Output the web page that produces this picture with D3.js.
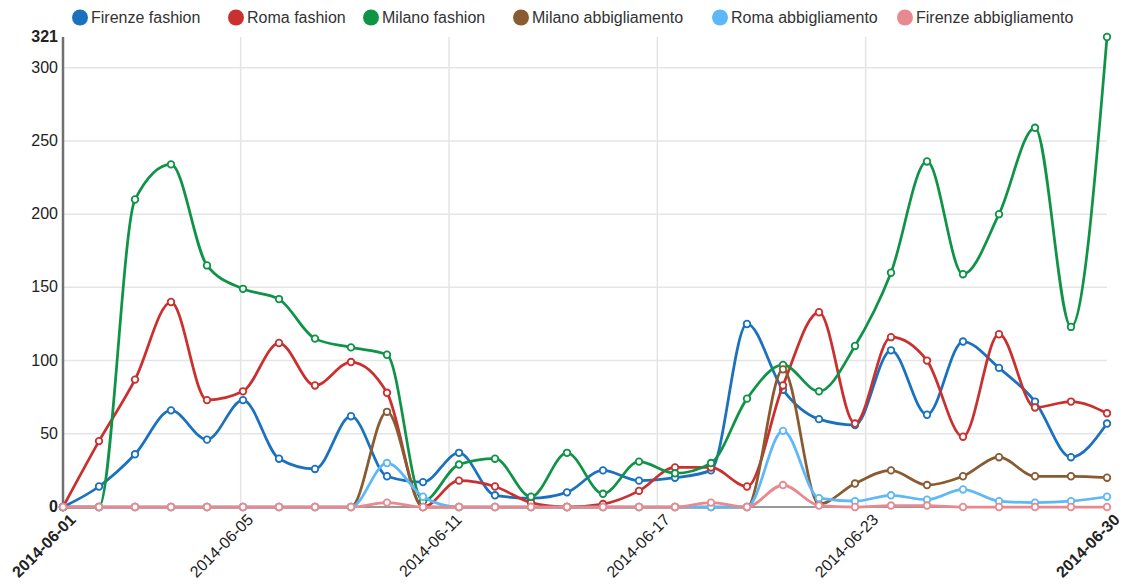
<!DOCTYPE html>
<html>
<head>
<meta charset="utf-8">
<script src="https://cdn.jsdelivr.net/npm/d3@7"></script>
<style>
  body { margin: 0; background: #fff; }
  svg { display: block; font-family: "Liberation Sans", Arial, sans-serif; }
</style>
</head>
<body>
<svg id="chart" width="1126" height="586"></svg>
<script>
// dates of the points (one per day)
const dates = ["2014-06-01","2014-06-02","2014-06-03","2014-06-04","2014-06-05","2014-06-06",
  "2014-06-07","2014-06-08","2014-06-09","2014-06-10","2014-06-11","2014-06-12","2014-06-13",
  "2014-06-14","2014-06-15","2014-06-16","2014-06-17","2014-06-18","2014-06-19","2014-06-20",
  "2014-06-21","2014-06-22","2014-06-23","2014-06-24","2014-06-25","2014-06-26","2014-06-27",
  "2014-06-28","2014-06-29","2014-06-30"];

const firenzeFashion = [0,14,36,66,46,73,33,26,62,21,17,37,8,6,10,25,18,20,25,125,80,60,56,107,63,113,95,72,34,57];
const romaFashion = [0,45,87,140,73,79,112,83,99,78,0,18,14,3,0,2,11,27,27,14,83,133,57,116,100,48,118,68,72,64];
const milanoFashion = [0,0,210,234,165,149,142,115,109,104,4,29,33,7,37,9,31,23,30,74,97,79,110,160,236,159,200,259,123,321];
const milanoAbbigliamento = [0,0,0,0,0,0,0,0,0,65,0,0,0,0,0,0,0,0,0,0,94,2,16,25,15,21,34,21,21,20];
const romaAbbigliamento = [0,0,0,0,0,0,0,0,0,30,7,0,0,0,0,0,0,0,0,0,52,6,4,8,5,12,4,3,4,7];
const firenzeAbbigliamento = [0,0,0,0,0,0,0,0,0,3,0,0,0,0,0,0,0,0,3,0,15,1,0,1,1,0,0,0,0,0];

const seriesNames = ["Firenze fashion","Roma fashion","Milano fashion","Milano abbigliamento","Roma abbigliamento","Firenze abbigliamento"];
const seriesValues = [firenzeFashion, romaFashion, milanoFashion, milanoAbbigliamento, romaAbbigliamento, firenzeAbbigliamento];
const seriesColors = ["#1a71bd","#c9302f","#0f9447","#8a5a30","#5db8f9","#e8898f"];

// legend circle centres (the original legend lines up in columns)
const legendX = [80, 236, 371, 521, 720, 905];

// the dates were stored as local midnight in UTC+2
const tz = 2 * 3600 * 1000;
const toTime = s => Date.parse(s + "T00:00:00Z") - tz;
const fmt = t => d3.utcFormat("%Y-%m-%d")(new Date(t + tz));

const svg = d3.select("#chart"),
    margin = {top: 37, right: 19, bottom: 79, left: 63},
    width = +svg.attr("width") - margin.left - margin.right,
    height = +svg.attr("height") - margin.top - margin.bottom;

const data = seriesNames.map((name, i) => ({
  name: name,
  color: seriesColors[i],
  values: dates.map((d, j) => ({x: toTime(d), y: seriesValues[i][j]}))
}));

const xDomain = [toTime(dates[0]), toTime(dates[dates.length - 1])];
const yMax = d3.max(seriesValues, s => d3.max(s));

const x = d3.scaleLinear().domain(xDomain).range([0, width]);
const y = d3.scaleLinear().domain([0, yMax]).range([height, 0]);

const g = svg.append("g").attr("transform", "translate(" + margin.left + "," + margin.top + ")");

// ticks, dropping the ones that would collide with the min/max labels
const xTicks = x.ticks(5).filter(t => x(t) > 40 && x(t) < width - 40);
const yTicks = y.ticks(6).filter(t => y(t) > 14 && y(t) < height - 14);

// grid
g.append("g").selectAll("line").data(yTicks).enter().append("line")
    .attr("x1", 0).attr("x2", width)
    .attr("y1", d => y(d)).attr("y2", d => y(d))
    .attr("stroke", "#e5e5e5").attr("stroke-width", 1.5);
g.append("g").selectAll("line").data(xTicks).enter().append("line")
    .attr("x1", d => x(d)).attr("x2", d => x(d))
    .attr("y1", 0).attr("y2", height)
    .attr("stroke", "#e5e5e5").attr("stroke-width", 1.5);

// x axis line
g.append("line")
    .attr("x1", 0).attr("x2", width).attr("y1", height).attr("y2", height)
    .attr("stroke", "#333").attr("stroke-width", 1);

// y axis line
g.append("line")
    .attr("x1", 0).attr("x2", 0).attr("y1", 0).attr("y2", height)
    .attr("stroke", "#707070").attr("stroke-width", 2.5);

// y labels
const yLabels = [{v: 0, bold: true}, {v: yMax, bold: true}].concat(yTicks.map(v => ({v: v, bold: false})));
g.append("g").selectAll("text").data(yLabels).enter().append("text")
    .attr("x", -5).attr("y", d => y(d.v)).attr("dy", "0.32em")
    .attr("text-anchor", "end")
    .attr("font-size", 16)
    .attr("font-weight", d => d.bold ? "bold" : "normal")
    .attr("fill", "#222")
    .text(d => d.v);

// x labels, rotated
const xLabels = [{t: xDomain[0], bold: true}, {t: xDomain[1], bold: true}].concat(xTicks.map(t => ({t: t, bold: false})));
g.append("g").selectAll("g").data(xLabels).enter().append("g")
    .attr("transform", d => "translate(" + x(d.t) + "," + height + ")")
  .append("text")
    .attr("transform", "rotate(-45)")
    .attr("y", 8).attr("dy", "0.71em")
    .attr("text-anchor", "end")
    .attr("font-size", 16)
    .attr("font-weight", d => d.bold ? "bold" : "normal")
    .attr("fill", "#222")
    .text(d => fmt(d.t));

// series
const line = d3.line()
    .x(d => x(d.x))
    .y(d => y(d.y))
    .curve(d3.curveMonotoneX);

const series = g.selectAll(".series").data(data).enter().append("g").attr("class", "series");
series.append("path")
    .attr("d", d => line(d.values))
    .attr("fill", "none")
    .attr("stroke", d => d.color)
    .attr("stroke-width", 2.75);
series.each(function(s) {
  d3.select(this).selectAll("circle").data(s.values).enter().append("circle")
      .attr("cx", d => x(d.x)).attr("cy", d => y(d.y)).attr("r", 3.3)
      .attr("fill", "#fff")
      .attr("stroke", s.color)
      .attr("stroke-width", 1.8);
});

// legend
const legend = svg.append("g").selectAll("g").data(data).enter().append("g")
    .attr("transform", (d, i) => "translate(" + legendX[i] + ",17.5)");
legend.append("circle").attr("r", 8).attr("fill", d => d.color);
legend.append("text")
    .attr("x", 11).attr("dy", "0.35em")
    .attr("font-size", 16)
    .attr("fill", "#333")
    .text(d => d.name);
</script>
</body>
</html>
